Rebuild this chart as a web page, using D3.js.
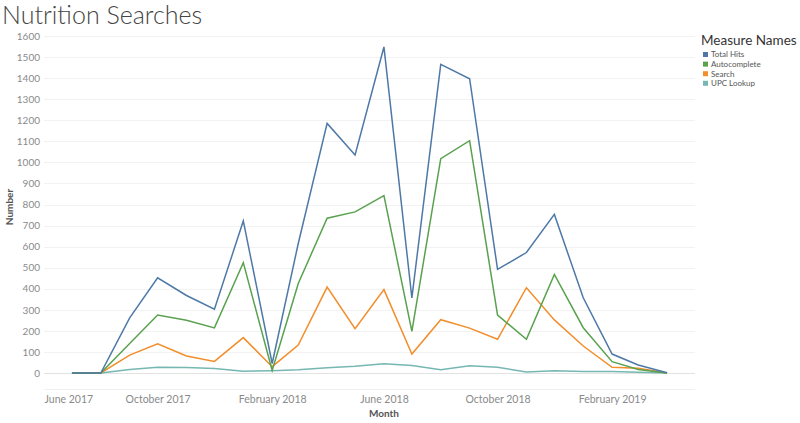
<!DOCTYPE html>
<html>
<head>
<meta charset="utf-8">
<script src="https://cdn.jsdelivr.net/npm/d3@7"></script>
<style>
    body { margin: 0; background: #fff; }
    svg { display: block; font-family: Lato, "Open Sans", sans-serif; }
</style>
</head>
<body>
<svg id="chart" width="800" height="423"></svg>
<script>
// data
const months = [
    "2017-07", "2017-08", "2017-09", "2017-10", "2017-11", "2017-12",
    "2018-01", "2018-02", "2018-03", "2018-04", "2018-05", "2018-06",
    "2018-07", "2018-08", "2018-09", "2018-10", "2018-11", "2018-12",
    "2019-01", "2019-02", "2019-03", "2019-04"
];
const totalHits = [0, 0, 262, 452, 368, 303, 722, 45, 615, 1185, 1035, 1548, 357, 1465, 1397, 492, 572, 753, 357, 90, 38, 1];
const autocomplete = [0, 0, 140, 275, 250, 214, 524, 12, 425, 735, 765, 842, 198, 1018, 1103, 275, 160, 468, 215, 54, 17, 0];
const search = [0, 0, 85, 139, 81, 55, 168, 30, 133, 408, 210, 396, 90, 253, 213, 160, 405, 252, 128, 27, 22, 0];
const upcLookup = [0, 0, 17, 27, 26, 21, 8, 11, 15, 25, 32, 44, 36, 16, 34, 27, 5, 11, 7, 7, 4, 0];

const seriesNames = ["Total Hits", "Autocomplete", "Search", "UPC Lookup"];
const seriesColors = ["#4e79a7", "#59a14f", "#f28e2b", "#76b7b2"];
const xTickMonths = ["2017-06", "2017-10", "2018-02", "2018-06", "2018-10", "2019-02"];
const yTicks = [0, 100, 200, 300, 400, 500, 600, 700, 800, 900, 1000, 1100, 1200, 1300, 1400, 1500, 1600];

const parseMonth = d3.timeParse("%Y-%m");
const series = [totalHits, autocomplete, search, upcLookup].map((values, i) => ({
    name: seriesNames[i],
    color: seriesColors[i],
    values: values.map((v, j) => ({ date: parseMonth(months[j]), value: v }))
}));

const svg = d3.select("#chart");

// scales
const x = d3.scaleTime()
    .domain([parseMonth("2017-06"), parseMonth("2019-05")])
    .range([44, 695]);
const y = d3.scaleLinear().domain([0, 1600]).range([373, 36]);

// title
svg.append("text")
    .attr("x", 2)
    .attr("y", 24)
    .attr("font-size", 25)
    .attr("font-weight", 300)
    .attr("fill", "#444")
    .text("Nutrition Searches");

// gridlines
svg.append("g")
    .selectAll("line")
    .data(yTicks)
    .join("line")
    .attr("x1", 44)
    .attr("x2", 695)
    .attr("y1", (d) => Math.round(y(d)) + 0.5)
    .attr("y2", (d) => Math.round(y(d)) + 0.5)
    .attr("stroke", (d) => (d === 0 ? "#e2e2e2" : "#f2f2f2"))
    .attr("stroke-width", 1);

// pane bottom edge
svg.append("line")
    .attr("x1", 44).attr("x2", 695)
    .attr("y1", 389.5).attr("y2", 389.5)
    .attr("stroke", "#f0f0f0");

// y axis
const yAxis = d3.axisLeft(y)
    .tickValues(yTicks)
    .tickFormat(d3.format("d"))
    .tickSize(0)
    .tickPadding(0);
svg.append("g")
    .attr("transform", "translate(40,0)")
    .call(yAxis)
    .call((g) => g.select(".domain").remove())
    .selectAll("text")
    .attr("font-family", "Lato, sans-serif")
    .attr("font-size", 10)
    .attr("fill", "#8a8a8a");

// x axis
const xAxis = d3.axisBottom(x)
    .tickValues(xTickMonths.map(parseMonth))
    .tickFormat(d3.timeFormat("%B %Y"))
    .tickSize(0)
    .tickPadding(0);
const xg = svg.append("g")
    .attr("transform", "translate(0,396)")
    .call(xAxis);
xg.select(".domain").remove();
xg.selectAll("text")
    .attr("font-family", "Lato, sans-serif")
    .attr("font-size", 10.5)
    .attr("fill", "#8a8a8a")
    .attr("dy", "0.71em");
// first label kept inside the pane, as Tableau does
xg.select(".tick text").attr("text-anchor", "start");

// axis titles
svg.append("text")
    .attr("transform", "translate(13,207) rotate(-90)")
    .attr("text-anchor", "middle")
    .attr("font-size", 10)
    .attr("font-weight", 700)
    .attr("fill", "#555")
    .text("Number");
svg.append("text")
    .attr("x", 384)
    .attr("y", 417)
    .attr("text-anchor", "middle")
    .attr("font-size", 10)
    .attr("font-weight", 700)
    .attr("fill", "#555")
    .text("Month");

// lines
const line = d3.line()
    .x((d) => x(d.date))
    .y((d) => y(d.value));
svg.append("g")
    .selectAll("path")
    .data(series.slice().reverse())
    .join("path")
    .attr("d", (d) => line(d.values))
    .attr("fill", "none")
    .attr("stroke", (d) => d.color)
    .attr("stroke-width", 1.5)
    .attr("stroke-linejoin", "miter");

// legend
const legend = svg.append("g").attr("transform", "translate(701,0)");
legend.append("text")
    .attr("x", 0)
    .attr("y", 45)
    .attr("font-size", 13.5)
    .attr("fill", "#333")
    .text("Measure Names");
const items = legend.selectAll(".item")
    .data(series)
    .join("g")
    .attr("class", "item")
    .attr("transform", (d, i) => `translate(0,${54.5 + i * 9.6})`);
items.append("rect")
    .attr("x", 2)
    .attr("y", -2.5)
    .attr("width", 5)
    .attr("height", 5)
    .attr("fill", (d) => d.color);
items.append("text")
    .attr("x", 10)
    .attr("y", 0)
    .attr("dy", "0.35em")
    .attr("font-size", 8)
    .attr("fill", "#555")
    .text((d) => d.name);
</script>
</body>
</html>
